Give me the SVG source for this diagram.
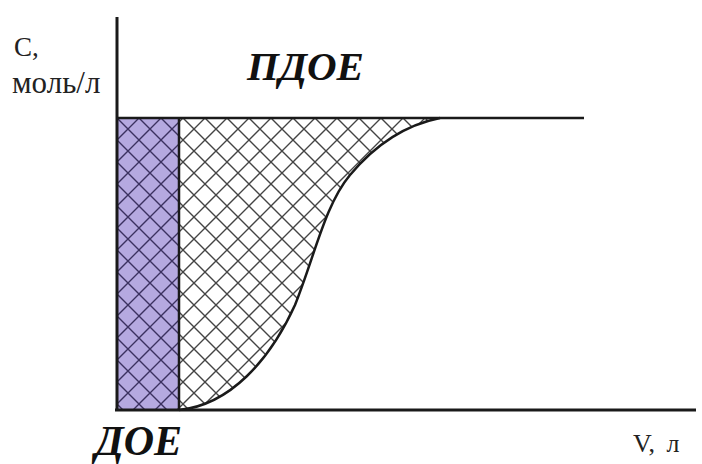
<svg xmlns="http://www.w3.org/2000/svg" width="702" height="464" viewBox="0 0 702 464">
<style>
.ser{font-family:"Liberation Serif","DejaVu Serif",serif;fill:#222}
.bi{font-family:"Liberation Serif","DejaVu Serif",serif;font-weight:bold;font-style:italic;fill:#111}
.ax{stroke:#1a1a1a;stroke-width:3;fill:none}
.ln{stroke:#1a1a1a;stroke-width:2.5;fill:none}
</style>
<defs>
<pattern id="hatch" patternUnits="userSpaceOnUse" width="22" height="22" x="117" y="118">
<path d="M-1,-1 L23,23 M23,-1 L-1,23" stroke="#444" stroke-width="1.4" fill="none"/>
</pattern>
<pattern id="hatchP" patternUnits="userSpaceOnUse" width="22" height="22" x="117" y="118">
<path d="M-1,-1 L23,23 M23,-1 L-1,23" stroke="#3b3160" stroke-width="1.4" fill="none"/>
</pattern>
</defs>
<rect width="702" height="464" fill="#ffffff"/>
<g id="pdoe-area">
<path d="M179,118 L440,118 C405,125 375,145 350,175 C325,205 315,255 295,305 C270,360 230,405 179,410 Z" fill="url(#hatch)"/>
<path d="M179,410 C230,405 270,360 295,305 C315,255 325,205 350,175 C375,145 405,125 440,118" class="ln"/>
</g>
<g id="doe-area">
<rect x="117" y="118" width="62" height="292" fill="#b5a9e0"/>
<rect x="117" y="118" width="62" height="292" fill="url(#hatchP)"/>
<line x1="179" y1="118" x2="179" y2="410" class="ln"/>
</g>
<g id="connectors">
<line x1="117" y1="17" x2="117" y2="411" class="ax"/>
<line x1="115" y1="410" x2="696" y2="410" class="ax"/>
<line x1="117" y1="118" x2="584" y2="118" class="ln"/>
</g>
<g id="labels">
<text x="14" y="56" class="ser" font-size="27">С,</text>
<text x="12" y="93" class="ser" font-size="31">моль/л</text>
<text x="247" y="80" class="bi" font-size="41">ПДОЕ</text>
<text x="95" y="455" class="bi" font-size="42">ДОЕ</text>
<text x="633" y="452" class="ser" font-size="26" word-spacing="5">V, л</text>
</g>
</svg>
